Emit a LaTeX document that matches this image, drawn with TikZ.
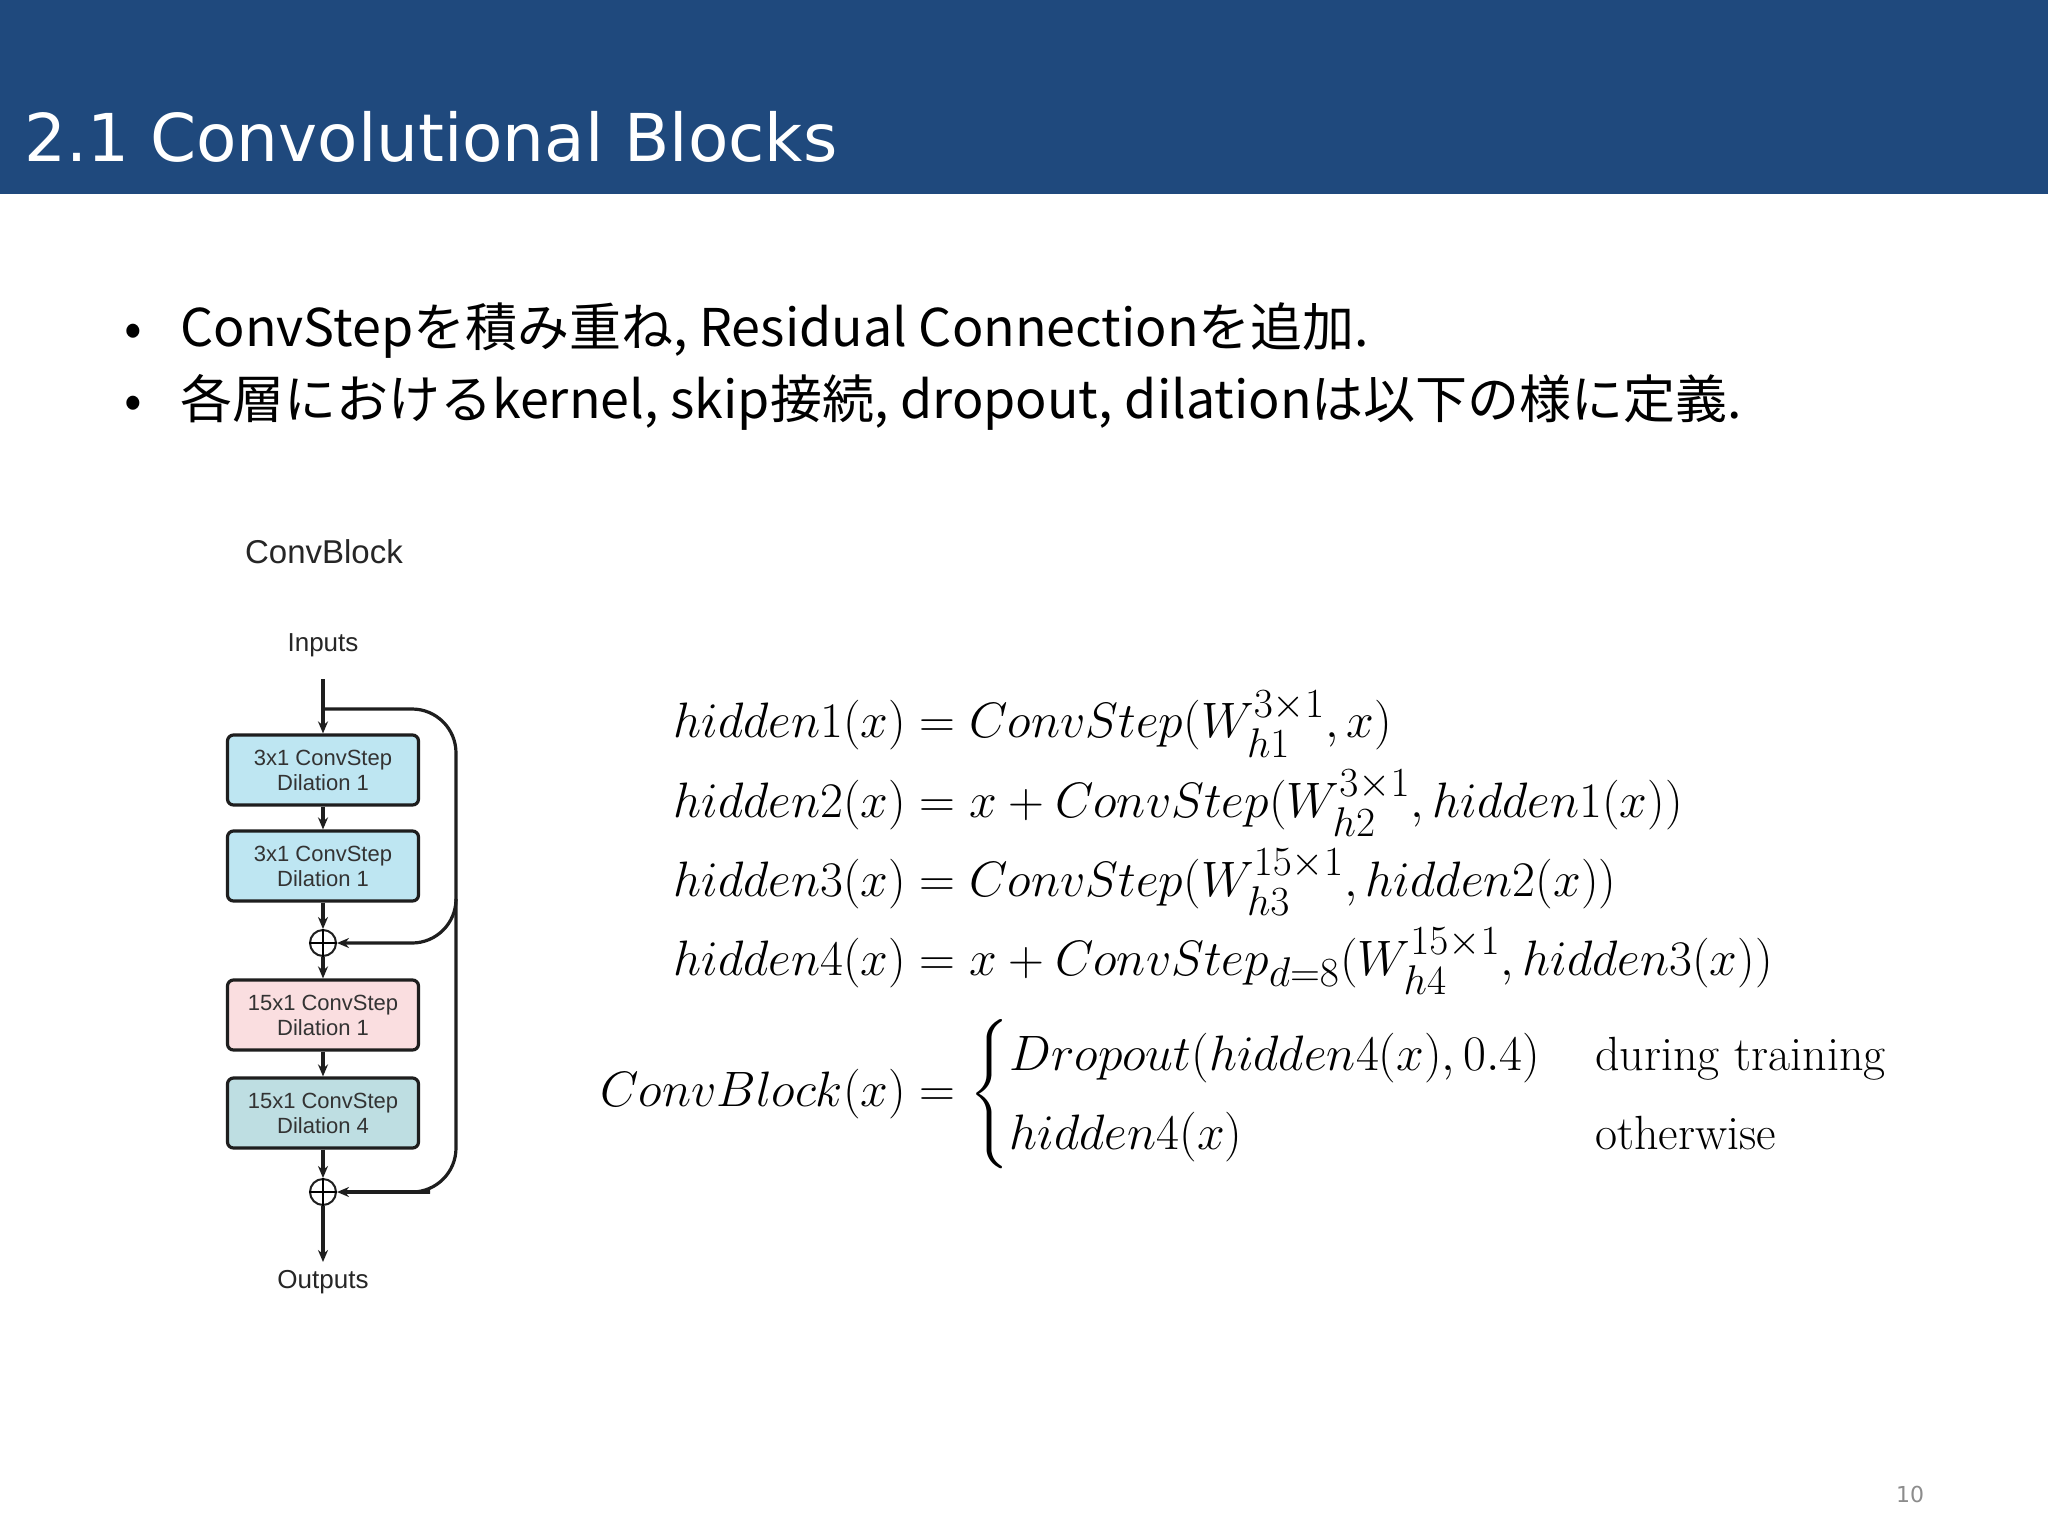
\documentclass[tikz,border=0pt]{standalone}
\usepackage{amsmath}
\usepackage{fontspec}
\setmainfont{DejaVu Sans}
\newfontfamily\jpf{Noto Sans CJK JP}
\newfontfamily\hv{Liberation Sans}
\usetikzlibrary{arrows.meta}
\definecolor{hdr}{RGB}{31,73,125}
\definecolor{cblue}{RGB}{190,230,242}
\definecolor{cpink}{RGB}{250,222,224}
\definecolor{cteal}{RGB}{190,222,226}
\definecolor{edge}{RGB}{30,30,30}
\begin{document}
\begin{tikzpicture}[x=0.5pt,y=-0.5pt,
  blk/.style={draw=edge,line width=1.6pt,rounded corners=3pt,minimum width=95.5pt,minimum height=35pt,inner sep=0pt,align=center,font=\hv\fontsize{11}{12.5}\selectfont,text=black!80},
  pl/.style={circle,draw=edge,line width=1pt,minimum size=13pt,inner sep=0pt},
  ar/.style={-{Stealth[length=6pt,width=5pt]},line width=1.6pt,draw=edge},
  lbl/.style={font=\hv\fontsize{13}{15}\selectfont,text=black!85},
  bl/.style={anchor=base west,inner sep=0pt,font=\jpf\fontsize{26}{30}\selectfont}]
\useasboundingbox (0,0) rectangle (2048,1536);
\fill[white] (0,0) rectangle (2048,1536);
\fill[hdr] (0,0) rectangle (2048,194);
\node[anchor=base west,text=white,font=\fontsize{33}{38}\selectfont,inner sep=0pt] (title) at (24,161) {2.1 Convolutional Blocks};
\node[bl] (b1) at (124,346) {•};
\node[bl] (t1) at (180,346) {ConvStepを積み重ね, Residual Connectionを追加.};
\node[bl] (b2) at (124,418) {•};
\node[bl] (t2) at (180,418) {各層におけるkernel, skip接続, dropout, dilationは以下の様に定義.};
% diagram
\node[font=\hv\fontsize{16.5}{19}\selectfont,text=black!85] (cb) at (324,552) {ConvBlock};
\node[lbl] (in) at (323,645) {Inputs};
\coordinate (top) at (323,679);
\coordinate (br) at (323,709);
\node[blk,fill=cblue] (k1) at (323,770) {3x1 ConvStep\\Dilation 1};
\node[blk,fill=cblue] (k2) at (323,866) {3x1 ConvStep\\Dilation 1};
\node[pl] (p1) at (323,943) {};
\draw[line width=0.8pt] (p1.north)--(p1.south) (p1.west)--(p1.east);
\node[blk,fill=cpink] (k3) at (323,1015) {15x1 ConvStep\\Dilation 1};
\node[blk,fill=cteal] (k4) at (323,1113) {15x1 ConvStep\\Dilation 4};
\node[pl] (p2) at (323,1192) {};
\draw[line width=0.8pt] (p2.north)--(p2.south) (p2.west)--(p2.east);
\coordinate (oe) at (323,1262);
\node[lbl] (out) at (323,1282) {Outputs};
\draw[ar] (top)--(k1.north);
\draw[ar] (k1)--(k2);
\draw[ar] (k2)--(p1);
\draw[ar] (p1)--(k3);
\draw[ar] (k3)--(k4);
\draw[ar] (k4)--(p2);
\draw[ar] (p2)--(oe);
\draw[line width=1.6pt,draw=edge,rounded corners=22pt] (br)--(456,709)--(456,1192)--(430,1192);
\draw[ar] (430,1192)--(p2.east);
\draw[ar,rounded corners=22pt] (456,900)--(456,943)--(p1.east);
% equations
\node[anchor=west,inner sep=0pt,font=\fontsize{27.5}{33}\selectfont] (eq) at (600,932) {\setmainfont{Latin Modern Roman}$\begin{aligned}
hidden1(x) &= ConvStep(W_{h1}^{3\times1},x)\\[2pt]
hidden2(x) &= x+ConvStep(W_{h2}^{3\times1},hidden1(x))\\[2pt]
hidden3(x) &= ConvStep(W_{h3}^{15\times1},hidden2(x))\\[2pt]
hidden4(x) &= x+ConvStep_{d=8}(W_{h4}^{15\times1},hidden3(x))\\[6pt]
ConvBlock(x) &= \renewcommand\arraystretch{0.85}\begin{cases} Dropout(hidden4(x),0.4) & \text{\fontsize{24}{28}\selectfont during training}\\ hidden4(x) & \text{\fontsize{24}{28}\selectfont otherwise}\end{cases}
\end{aligned}$};
\node[text=black!45,font=\fontsize{11}{13}\selectfont] (pn) at (1910,1494) {10};
\end{tikzpicture}
\end{document}
